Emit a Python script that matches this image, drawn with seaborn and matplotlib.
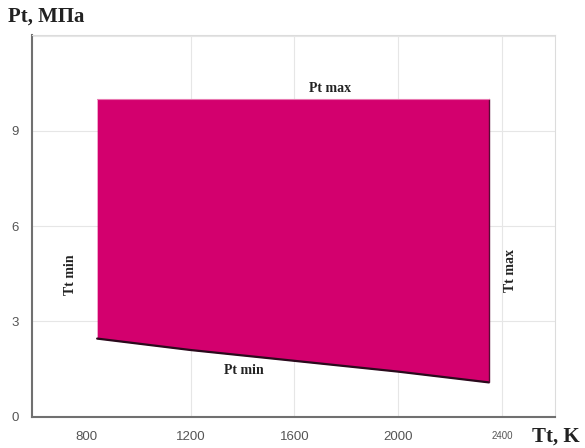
import matplotlib
matplotlib.use("Agg")
import matplotlib.pyplot as plt
import seaborn as sns
import pandas as pd

# ---- data ----
tt = [840, 1200, 1600, 2000, 2350]
pt_min = [2.46, 2.10, 1.76, 1.42, 1.08]
pt_max = [10, 10, 10, 10, 10]
x_ticks = [800, 1200, 1600, 2000, 2400]
x_tick_labels = ["800", "1200", "1600", "2000", "2400"]
x_minor = [1000, 1400, 1800, 2200]
y_ticks = [0, 3, 6, 9, 12]
y_tick_labels = ["0", "3", "6", "9", ""]
y_minor = [1.5, 4.5, 7.5, 10.5]

W, H = 585, 448
sns.set_style("white")
plt.rcParams['font.family'] = ['Liberation Sans', 'DejaVu Sans']

fig = plt.figure(figsize=(W / 100, H / 100), dpi=100)
L, R, B, T = 32.3, 555, 416.7, 35
ax = fig.add_axes([L / W, (H - B) / H, (R - L) / W, (B - T) / H])

df = pd.DataFrame({"Tt": tt, "Pt_min": pt_min, "Pt_max": pt_max})
fill = "#D3006E"
ax.fill_between(df["Tt"], df["Pt_min"], df["Pt_max"], color=fill, lw=0, zorder=2)
sns.lineplot(data=df, x="Tt", y="Pt_min", color="#2a0a1c", lw=1.6, ax=ax, zorder=3)
ax.plot([tt[-1], tt[-1]], [pt_min[-1], pt_max[-1]], color="#5a0a35", lw=1.0, zorder=3)
ax.plot(df["Tt"], df["Pt_max"], color="#e878b0", lw=0.8, zorder=3)

ax.set_xlim(590, 2605)
ax.set_ylim(0, 12.02)
ax.set_xlabel("")
ax.set_ylabel("")

ax.set_xticks(x_ticks)
ax.set_xticklabels(x_tick_labels)
ax.set_xticks(x_minor, minor=True)
ax.set_yticks(y_ticks)
ax.set_yticklabels(y_tick_labels)
ax.set_yticks(y_minor, minor=True)

ax.set_axisbelow(True)
ax.grid(True, which="major", color="#e6e6e6", lw=0.8)
ax.get_xgridlines()[0].set_visible(False)

for s in ["top", "right"]:
    ax.spines[s].set_color("#dcdcdc")
    ax.spines[s].set_linewidth(0.8)
for s in ["left", "bottom"]:
    ax.spines[s].set_color("#707070")
    ax.spines[s].set_linewidth(1.5)

ax.tick_params(axis="x", which="major", direction="in", length=4, width=1,
               color="#707070", pad=10, labelsize=9.5, labelcolor="#555555")
ax.tick_params(axis="x", which="minor", direction="in", length=2.5, width=1,
               color="#707070")
ax.tick_params(axis="y", which="major", direction="out", length=4, width=1,
               color="#707070", pad=6, labelsize=9.5, labelcolor="#555555")
ax.tick_params(axis="y", which="minor", direction="out", length=2.5, width=1,
               color="#707070")
ax.get_xticklabels()[-1].set_fontsize(7)

serif = dict(fontfamily=["Liberation Serif", "DejaVu Serif"], fontweight="bold", color="#222222")

def px(x, y):
    return x / W, 1 - y / H

fig.text(*px(8, 17), "Pt, МПа", fontsize=15, ha="left", va="center", **serif)
fig.text(*px(532, 437), "Tt, K", fontsize=15, ha="left", va="center", **serif)
fig.text(*px(330, 88), "Pt max", fontsize=10, ha="center", va="center", **serif)
fig.text(*px(244, 370), "Pt min", fontsize=10, ha="center", va="center", **serif)
fig.text(*px(70, 275), "Tt min", fontsize=10, ha="center", va="center", rotation=90, **serif)
fig.text(*px(510, 270), "Tt max", fontsize=10, ha="center", va="center", rotation=90, **serif)

fig.savefig("out.png", dpi=100)
